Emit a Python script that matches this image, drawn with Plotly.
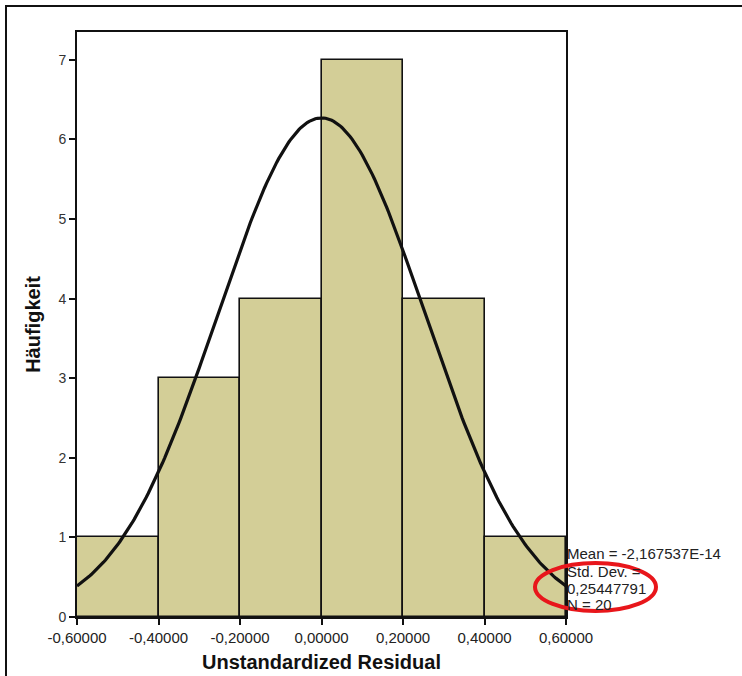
import math
import plotly.graph_objects as go

# Data
bin_edges = [-0.6, -0.4, -0.2, 0.0, 0.2, 0.4, 0.6]
counts = [1, 3, 4, 7, 4, 1]
mean_val = -2.167537e-14
std_val = 0.25447791
n_val = 20
x_tickvals = [-0.6, -0.4, -0.2, 0.0, 0.2, 0.4, 0.6]
x_ticktext = ["-0,60000", "-0,40000", "-0,20000", "0,00000", "0,20000", "0,40000", "0,60000"]
y_tickvals = [0, 1, 2, 3, 4, 5, 6, 7]
stats_lines = ["Mean = -2,167537E-14", "Std. Dev. =", "0,25447791", "N = 20"]

centers = [(bin_edges[i] + bin_edges[i + 1]) / 2 for i in range(len(counts))]
bw = bin_edges[1] - bin_edges[0]

# fitted normal curve (from stated mean / sd / N)
npts = 241
cx = [bin_edges[0] + (bin_edges[-1] - bin_edges[0]) * i / (npts - 1) for i in range(npts)]
cy = [n_val * bw * math.exp(-0.5 * ((v - mean_val) / std_val) ** 2) / (std_val * math.sqrt(2 * math.pi)) for v in cx]

fig = go.Figure()
fig.add_trace(go.Bar(x=centers, y=counts, width=bw,
                     marker=dict(color="#D3CE97", line=dict(color="#111111", width=1.6)),
                     hoverinfo="skip"))
fig.add_trace(go.Scatter(x=cx, y=cy, mode="lines",
                         line=dict(color="#111111", width=3.2), hoverinfo="skip"))

L, R, T, B = 77, 566, 32, 617
W, H = 742, 676
pw, ph = R - L, B - T

def px2x(px):
    return (px - L) / pw

def py2y(py):
    return (B - py) / ph

fig.update_layout(
    width=W, height=H,
    margin=dict(l=L, r=W - R, t=T, b=H - B, pad=0, autoexpand=False),
    paper_bgcolor="white", plot_bgcolor="white",
    showlegend=False, bargap=0,
    font=dict(family="Arial, Liberation Sans, sans-serif", color="#222222"),
    xaxis=dict(range=[-0.6, 0.6], tickvals=x_tickvals, ticktext=x_ticktext, automargin=False,
               showgrid=False, zeroline=False, showline=True, linecolor="#111111", linewidth=2,
               mirror=True, ticks="outside", ticklen=6, tickcolor="#111111", tickwidth=1.5,
               tickfont=dict(size=15, color="#222222"),
               title=dict(text="<b>Unstandardized Residual</b>", font=dict(size=20, color="#111111"), standoff=10)),
    yaxis=dict(range=[0, 7.35], tickvals=y_tickvals, automargin=False,
               showgrid=False, zeroline=False, showline=True, linecolor="#111111", linewidth=2,
               mirror=True, ticks="outside", ticklen=6, tickcolor="#111111", tickwidth=1.5,
               tickfont=dict(size=14, color="#333333"),
               title=dict(text="<b>Häufigkeit</b>", font=dict(size=20, color="#111111"), standoff=12)),
)

# stats text
ys = [553, 571, 588, 604]
for txt, py in zip(stats_lines, ys):
    fig.add_annotation(x=px2x(565), y=py2y(py), xref="paper", yref="paper",
                       text=txt, showarrow=False, xanchor="left", yanchor="middle",
                       font=dict(size=15, color="#222222"))

# red ellipse
fig.add_shape(type="circle", xref="paper", yref="paper",
              x0=px2x(535), x1=px2x(656), y0=py2y(611), y1=py2y(563),
              line=dict(color="#E8161B", width=4))

# outer frame
fig.add_shape(type="line", xref="paper", yref="paper",
              x0=px2x(6), x1=px2x(6), y0=py2y(700), y1=py2y(5),
              line=dict(color="#111111", width=2))
fig.add_shape(type="line", xref="paper", yref="paper",
              x0=px2x(5), x1=px2x(760), y0=py2y(6), y1=py2y(6),
              line=dict(color="#111111", width=2))

fig.write_html("out.html", config={"displayModeBar": False},
               post_script="document.body.style.margin='0';")
